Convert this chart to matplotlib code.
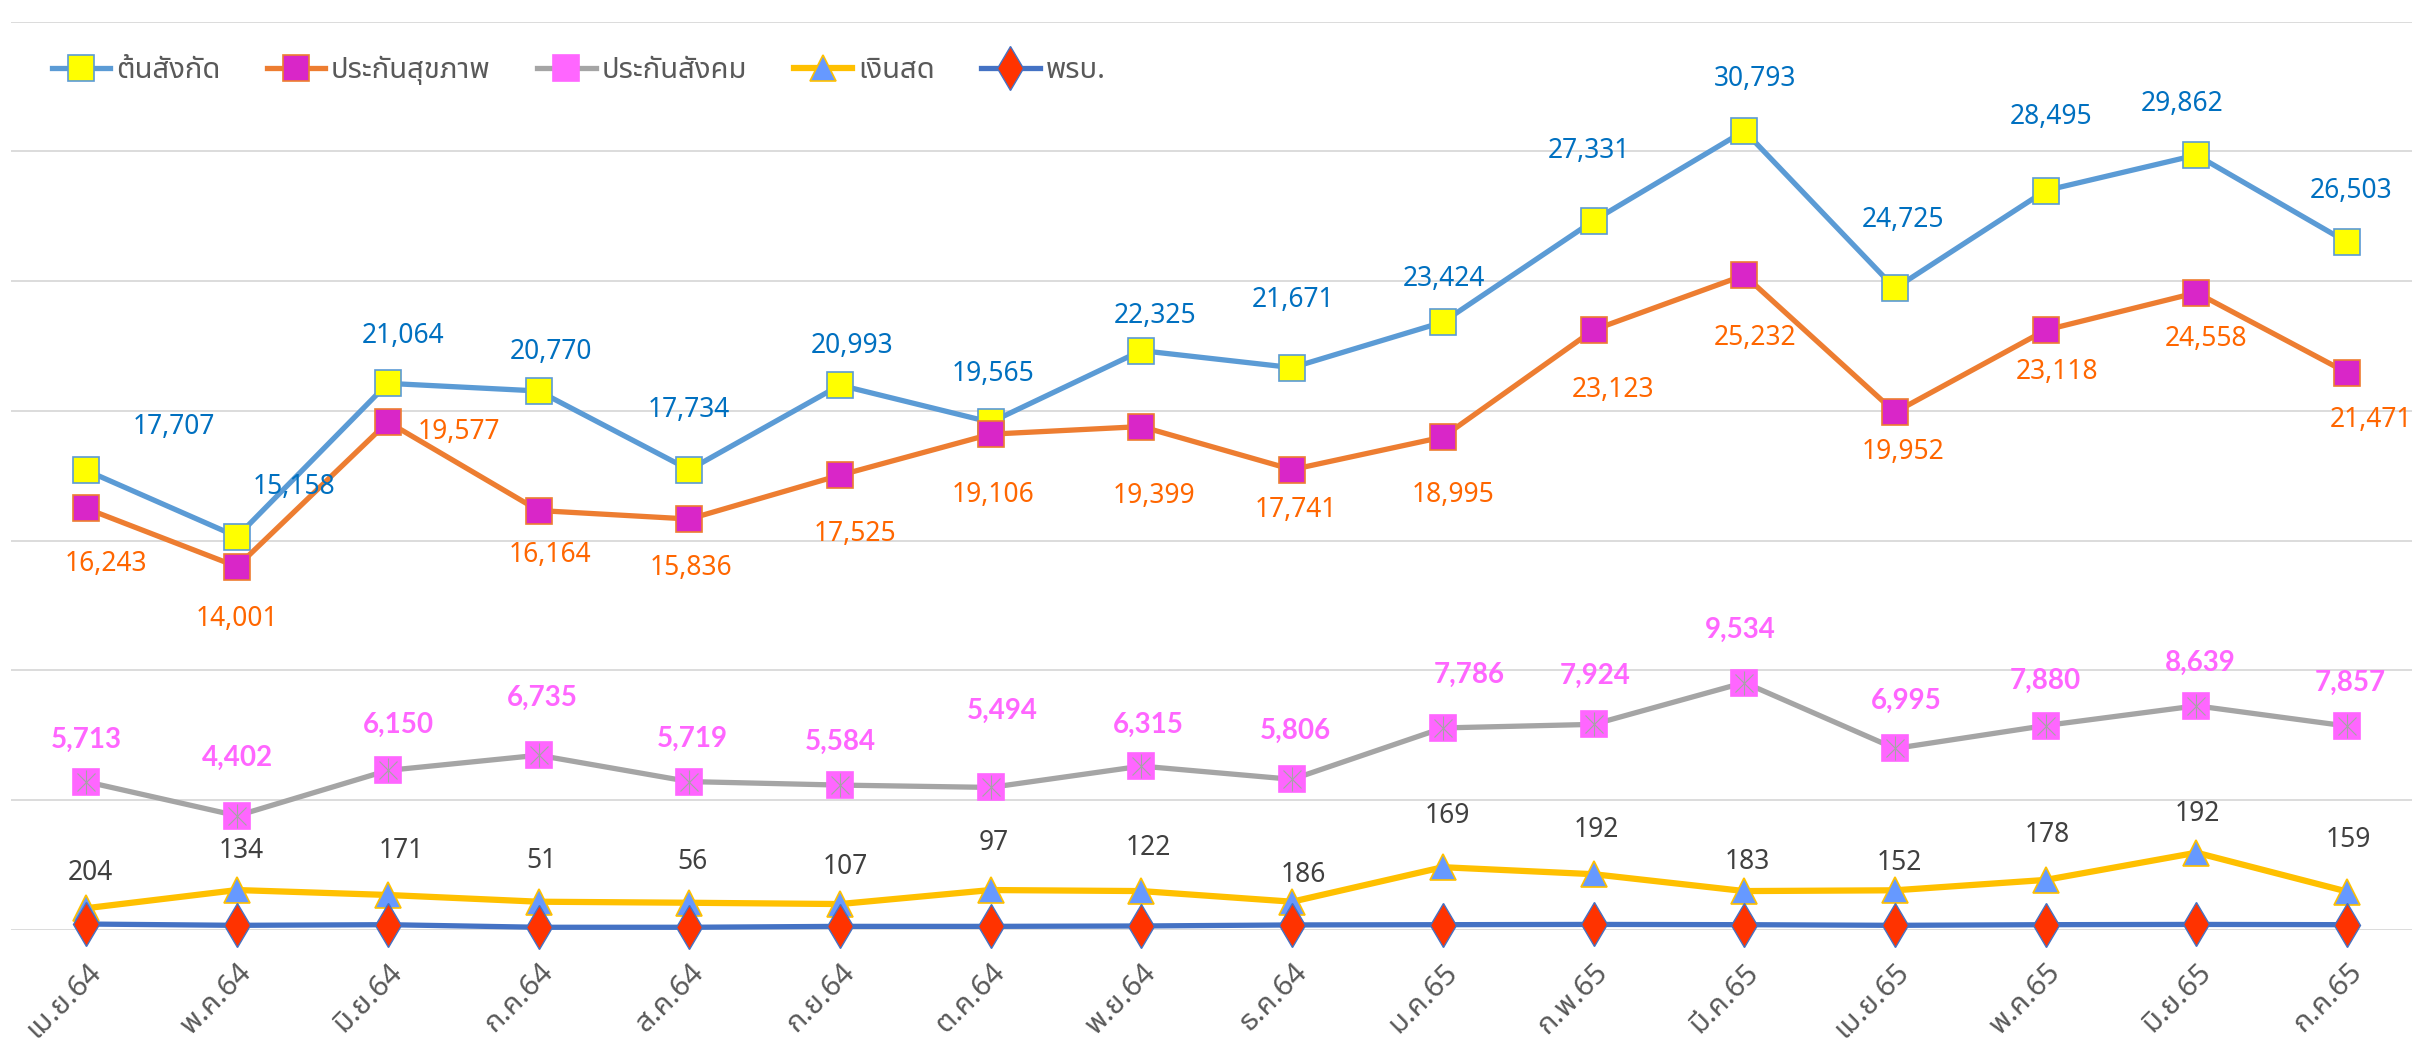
import matplotlib
matplotlib.use('Agg')
import matplotlib.pyplot as plt
import numpy as np

plt.rcParams['font.family'] = ['Noto Sans Thai', 'DejaVu Sans']
num_font = ['Noto Sans', 'DejaVu Sans']
bold_font = ['Lato', 'DejaVu Sans']

# เดือน
months = ['เม.ย.64', 'พ.ค.64', 'มิ.ย.64', 'ก.ค.64', 'ส.ค.64', 'ก.ย.64', 'ต.ค.64', 'พ.ย.64',
          'ธ.ค.64', 'ม.ค.65', 'ก.พ.65', 'มี.ค.65', 'เม.ย.65', 'พ.ค.65', 'มิ.ย.65', 'ก.ค.65']

ton_sangkat = [17707, 15158, 21064, 20770, 17734, 20993, 19565, 22325,
               21671, 23424, 27331, 30793, 24725, 28495, 29862, 26503]
prakan_sukkhaphap = [16243, 14001, 19577, 16164, 15836, 17525, 19106, 19399,
                     17741, 18995, 23123, 25232, 19952, 23118, 24558, 21471]
prakan_sangkhom = [5713, 4402, 6150, 6735, 5719, 5584, 5494, 6315,
                   5806, 7786, 7924, 9534, 6995, 7880, 8639, 7857]
# เงินสด: ค่าที่พล็อต (อ่านจากกราฟ) กับค่าที่แสดงใน label ไม่ตรงกัน
ngoen_sot_plot = [840, 1540, 1350, 1090, 1050, 1000, 1540, 1500,
                  1090, 2420, 2150, 1500, 1530, 1930, 2980, 1480]
ngoen_sot_label = [204, 134, 171, 51, 56, 107, 97, 122,
                   186, 169, 192, 183, 152, 178, 192, 159]
phorobo = [230, 180, 205, 105, 105, 140, 140, 155,
           195, 205, 215, 205, 180, 205, 215, 205]

# ตำแหน่ง label (offset points)
off_ton = [(63, 31), (41, 36), (11, 34), (9, 28), (0, 43), (9, 28), (2, 35), (10, 25),
           (1, 49), (1, 31), (-3, 50), (8, 37), (6, 49), (4, 53), (-10, 37), (3, 37)]
off_suk = [(14, -40), (0, -38), (51, -7), (8, -32), (1, -35), (11, -42), (2, -44), (9, -50),
           (3, -29), (7, -42), (14, -43), (8, -45), (6, -29), (8, -30), (7, -33), (17, -34)]
off_sang = [(0, 30), (0, 42), (8, 33), (3, 41), (2, 31), (0, 31), (8, 55), (5, 30),
            (2, 35), (19, 38), (1, 35), (-3, 38), (8, 34), (0, 32), (3, 31), (2, 31)]
off_ngoen = [(3, 25), (3, 28), (10, 32), (2, 29), (2, 29), (4, 27), (2, 34), (5, 31),
             (8, 19), (3, 37), (2, 32), (2, 21), (3, 20), (1, 32), (1, 28), (1, 37)]

x = np.arange(len(months))

fig = plt.figure(figsize=(24.12, 10.48), dpi=100)
ax = fig.add_axes([11 / 2412, 1 - 930 / 1048, 1 - 11 / 2412, (930 - 21.7) / 1048])

ax.plot(x, ton_sangkat, color='#5B9BD5', lw=3.8, marker='s', ms=19,
        mfc='#FFFF00', mec='#5B9BD5', mew=1.2, label='ต้นสังกัด', zorder=3)
ax.plot(x, prakan_sukkhaphap, color='#ED7D31', lw=3.8, marker='s', ms=19,
        mfc='#D926C8', mec='#ED7D31', mew=1.2, label='ประกันสุขภาพ', zorder=4)
ax.plot(x, prakan_sangkhom, color='#A5A5A5', lw=3.8, marker='s', ms=19,
        mfc='#FF66FF', mec='#FF66FF', mew=1.2, label='ประกันสังคม', zorder=5)
ax.plot(x, prakan_sangkhom, ls='none', marker='x', ms=13, mec='#A5A5A5', mew=0.8, zorder=5)
ax.plot(x, prakan_sangkhom, ls='none', marker='|', ms=17, mec='#A5A5A5', mew=0.8, zorder=5)
ax.plot(x, ngoen_sot_plot, color='#FFC000', lw=4.5, marker='^', ms=19,
        mfc='#6699FF', mec='#FFC000', mew=1.2, label='เงินสด', zorder=6, clip_on=False)
ax.plot(x, phorobo, color='#4472C4', lw=3.8, marker='d', ms=22,
        mfc='#FF3300', mec='#4472C4', mew=1.0, label='พรบ.', zorder=7, clip_on=False)

for i in x:
    ax.annotate(f'{ton_sangkat[i]:,}', (i, ton_sangkat[i]), xytext=off_ton[i],
                textcoords='offset points', ha='center', va='center',
                fontsize=19, color='#0070C0', family=num_font, zorder=10)
    ax.annotate(f'{prakan_sukkhaphap[i]:,}', (i, prakan_sukkhaphap[i]), xytext=off_suk[i],
                textcoords='offset points', ha='center', va='center',
                fontsize=19, color='#FF6600', family=num_font, zorder=10)
    ax.annotate(f'{prakan_sangkhom[i]:,}', (i, prakan_sangkhom[i]), xytext=off_sang[i],
                textcoords='offset points', ha='center', va='center',
                fontsize=20, color='#FF66FF', fontweight='bold', family=bold_font, zorder=10)
    ax.annotate(f'{ngoen_sot_label[i]:,}', (i, ngoen_sot_plot[i]), xytext=off_ngoen[i],
                textcoords='offset points', ha='center', va='center',
                fontsize=19, color='#404040', family=num_font, zorder=10)

ax.set_xlim(-0.5, 15.43)
ax.set_ylim(0, 35000)
ax.set_yticks(np.arange(0, 35001, 5000))
ax.set_yticklabels([])
ax.grid(axis='y', color='#D9D9D9', lw=1.3, zorder=0)
ax.set_axisbelow(True)
for s in ax.spines.values():
    s.set_visible(False)
ax.tick_params(axis='y', length=0)
ax.tick_params(axis='x', length=0, pad=20)
ax.set_xticks(x)
ax.set_xticklabels(months, rotation=45, ha='right', rotation_mode='anchor',
                   fontsize=21, color='#595959')

fig.legend(loc='upper left', bbox_to_anchor=(40 / 2412, 1 - 44 / 1048), ncol=5,
           frameon=False, fontsize=21, labelcolor='#595959', handlelength=2.0,
           columnspacing=1.6, handletextpad=0.2, borderaxespad=0)

fig.savefig('out.png', dpi=100)
